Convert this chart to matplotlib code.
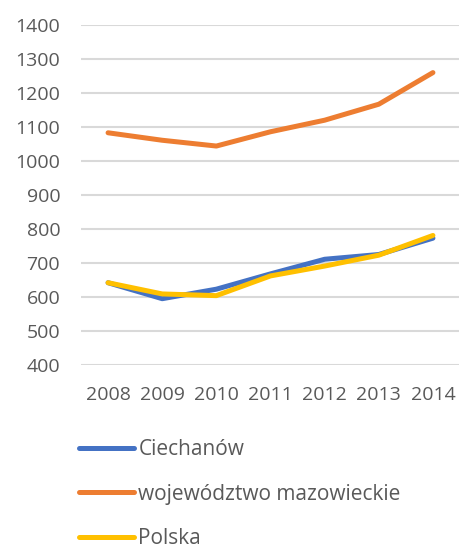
import matplotlib
matplotlib.use("Agg")
import matplotlib.pyplot as plt

years = ["2008", "2009", "2010", "2011", "2012", "2013", "2014"]
ciechanow = [642, 595, 623, 668, 711, 725, 773]
mazowieckie = [1083, 1061, 1044, 1086, 1120, 1167, 1260]
polska = [642, 609, 604, 662, 691, 723, 781]

series = [
    ("Ciechanów", ciechanow, "#4472C4"),
    ("województwo mazowieckie", mazowieckie, "#ED7D31"),
    ("Polska", polska, "#FFC000"),
]

plt.rcParams['font.family'] = ['Open Sans', 'DejaVu Sans']

fig = plt.figure(figsize=(4.6, 5.47), dpi=100)
ax = fig.add_axes([81/460, 1 - 365/547, 1 - 81/460, (365 - 25)/547])

x = list(range(len(years)))
for name, vals, col in series:
    ax.plot(x, vals, color=col, lw=3.6, label=name, solid_capstyle='round',
            solid_joinstyle='round')

ax.set_xlim(-0.5, len(years) - 0.5)
ax.set_ylim(400, 1400)
ax.set_yticks(range(400, 1401, 100))
ax.set_xticks(x)
ax.set_xticklabels(years)
ax.grid(axis='y', color='#D9D9D9', lw=1.5)
ax.set_axisbelow(True)
for s in ax.spines.values():
    s.set_visible(False)
ax.tick_params(axis='both', length=0, labelsize=14, labelcolor='#595959')
ax.tick_params(axis='y', pad=15)
ax.tick_params(axis='x', pad=15)

leg = fig.legend(loc='upper left', bbox_to_anchor=(79/460, 1 - 439/547),
                 frameon=False, fontsize=15, handlelength=2.65,
                 handletextpad=0.2, labelspacing=1.14, borderpad=0,
                 borderaxespad=0)
for t in leg.get_texts():
    t.set_color('#595959')

fig.savefig("out.png", dpi=100)
